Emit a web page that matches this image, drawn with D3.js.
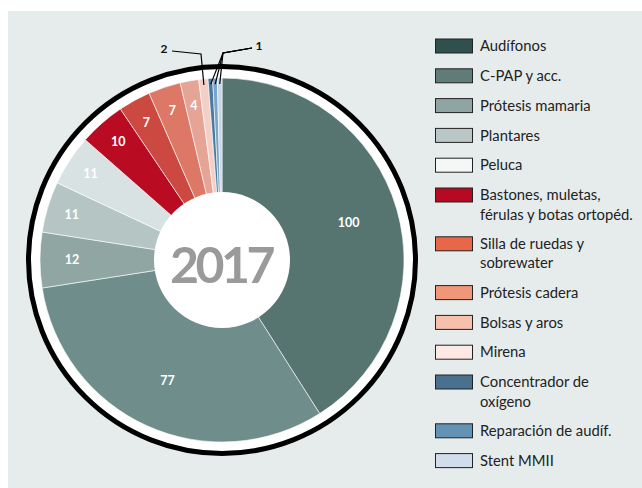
<!DOCTYPE html>
<html>
<head>
<meta charset="utf-8">
<script src="https://cdn.jsdelivr.net/npm/d3@7"></script>
<style>
  body { margin: 0; background: #fff; }
  svg { display: block; }
</style>
</head>
<body>
<div id="chart"></div>
<script>
// data
const categories = [
  "Audífonos", "C-PAP y acc.", "Prótesis mamaria", "Plantares", "Peluca",
  "Bastones, muletas,\nférulas y botas ortopéd.", "Silla de ruedas y\nsobrewater",
  "Prótesis cadera", "Bolsas y aros", "Mirena", "Concentrador de\noxígeno",
  "Reparación de audíf.", "Stent MMII"
];
const values = [100, 77, 12, 11, 11, 10, 7, 7, 4, 2, 1, 1, 1];
const sliceColors = [
  "#567571", "#6f8e8b", "#8fa6a3", "#b4c5c4", "#d9e2e2", "#b90c22", "#cb4940",
  "#dc7865", "#e6a496", "#f2d0c7", "#4a7aa1", "#7ba3c5", "#c6d5e8"
];
const swatchColors = [
  "#30504d", "#5f7c79", "#8fa5a3", "#b9c7c7", "#f5f7f7", "#b50a22", "#e8674a",
  "#f0977a", "#f6c0ad", "#fce9e3", "#49718f", "#6392b4", "#d1ddea"
];
const centerLabel = "2017";

const W = 642, H = 488;
const cx = 222, cy = 260;
const rPie = 182, rHole = 68;

const svg = d3.select("#chart").append("svg")
  .attr("width", W).attr("height", H);

// panel background
svg.append("rect")
  .attr("x", 8).attr("y", 11)
  .attr("width", W - 8).attr("height", H - 11)
  .attr("fill", "#e6ecec");

const data = categories.map((c, i) => ({ name: c, value: values[i], i: i }));

const pie = d3.pie().sort(null).value(d => d.value);
const arcs = pie(data);

const g = svg.append("g").attr("transform", `translate(${cx},${cy})`);

// white ring behind the pie
g.append("circle").attr("r", 191).attr("fill", "#fff");

const arc = d3.arc().innerRadius(0).outerRadius(rPie);

g.selectAll("path.slice")
  .data(arcs)
  .enter()
  .append("path")
  .attr("class", "slice")
  .attr("d", arc)
  .attr("fill", d => sliceColors[d.data.i])
  .attr("stroke", "#fff")
  .attr("stroke-width", 0.6);

// outer black ring
g.append("circle")
  .attr("r", 193.5)
  .attr("fill", "none")
  .attr("stroke", "#000")
  .attr("stroke-width", 5);

// value labels inside the slices (skip the tiny ones)
g.selectAll("text.val")
  .data(arcs.filter(d => d.data.value >= 4))
  .enter()
  .append("text")
  .attr("class", "val")
  .attr("transform", d => {
    const r = d.data.value > 50 ? 132 : (d.data.value >= 12 ? 150 : 157);
    const a = (d.startAngle + d.endAngle) / 2;
    return `translate(${r * Math.sin(a)},${-r * Math.cos(a)})`;
  })
  .attr("text-anchor", "middle")
  .attr("dy", "0.35em")
  .attr("fill", "#fff")
  .style("font-family", "Lato, 'Open Sans', sans-serif")
  .style("font-weight", "700")
  .style("font-size", "12.5px")
  .text(d => d.data.value);

// leader lines for the small slices
const pt = (d, r) => {
  const a = (d.startAngle + d.endAngle) / 2;
  return [r * Math.sin(a), -r * Math.cos(a)];
};
const line = d3.line();
const small = arcs.filter(d => d.data.value < 4);
const lbl2 = small.filter(d => d.data.value === 2);
const lbl1 = small.filter(d => d.data.value === 1);

const elbow2 = [201 - cx, 54 - cy], end2 = [172 - cx, 51 - cy];
const elbow1 = [223 - cx, 53 - cy], end1 = [252 - cx, 48 - cy];

lbl2.forEach(d => {
  g.append("path")
    .attr("d", line([pt(d, 176), elbow2, end2]))
    .attr("fill", "none").attr("stroke", "#000").attr("stroke-width", 1.2);
});
lbl1.forEach(d => {
  g.append("path")
    .attr("d", line([pt(d, 176), elbow1, end1]))
    .attr("fill", "none").attr("stroke", "#000").attr("stroke-width", 1.2);
});

g.append("text")
  .attr("x", end2[0] - 8).attr("y", end2[1] + 2)
  .attr("text-anchor", "middle")
  .attr("fill", "#111")
  .style("font-family", "Lato, sans-serif")
  .style("font-weight", "700")
  .style("font-size", "12px")
  .text(lbl2[0].data.value);
g.append("text")
  .attr("x", end1[0] + 7).attr("y", end1[1] + 2)
  .attr("text-anchor", "middle")
  .attr("fill", "#111")
  .style("font-family", "Lato, sans-serif")
  .style("font-weight", "700")
  .style("font-size", "12px")
  .text(lbl1[0].data.value);

// center hole with year
g.append("circle").attr("r", rHole).attr("fill", "#fff");
g.append("text")
  .attr("x", -1).attr("y", 23)
  .attr("text-anchor", "middle")
  .attr("fill", "#9a9a9a")
  .style("font-family", "Lato, sans-serif")
  .style("font-weight", "700")
  .style("font-size", "50px")
  .style("letter-spacing", "-3.5px")
  .text(centerLabel);

// legend
const legend = svg.append("g").attr("transform", "translate(435,0)");
let y = 46;
data.forEach(d => {
  const lines = d.name.split("\n");
  const row = legend.append("g").attr("transform", `translate(0,${y})`);
  row.append("rect")
    .attr("x", 0.5).attr("y", -7)
    .attr("width", 37).attr("height", 14)
    .attr("fill", swatchColors[d.i])
    .attr("stroke", "#222")
    .attr("stroke-width", 1);
  const t = row.append("text")
    .attr("x", 45)
    .attr("fill", "#222")
    .style("font-family", "Lato, 'Open Sans', sans-serif")
    .style("font-size", "14.8px");
  lines.forEach((l, k) => {
    t.append("tspan").attr("x", 45).attr("y", k * 19.5).attr("dy", "0.35em").text(l);
  });
  y += 29.8 + (lines.length - 1) * 19;
});
</script>
</body>
</html>
